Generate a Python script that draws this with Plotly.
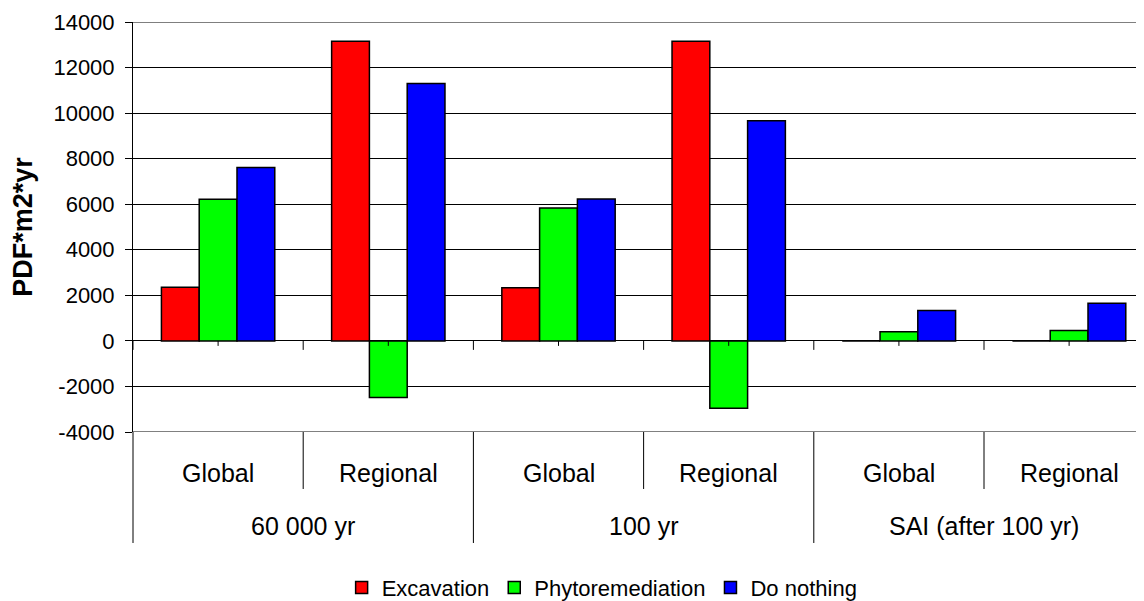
import plotly.graph_objects as go

# ---- data ----
inner_labels = ["Global", "Regional", "Global", "Regional", "Global", "Regional"]
outer_labels = ["60 000 yr", "100 yr", "SAI (after 100 yr)"]
series_names = ["Excavation", "Phytoremediation", "Do nothing"]
excavation = [2350, 13150, 2330, 13150, 0, 0]
phytoremediation = [6220, -2490, 5830, -2960, 400, 460]
do_nothing = [7610, 11300, 6230, 9660, 1330, 1650]
colors = ["#FF0000", "#00FF00", "#0000FF"]
y_ticks = list(range(-4000, 14001, 2000))

FONT = "Liberation Sans, Arial, sans-serif"
x_pos = list(range(len(inner_labels)))

fig = go.Figure()
for name, vals, col in zip(series_names, [excavation, phytoremediation, do_nothing], colors):
    fig.add_trace(go.Bar(
        x=x_pos, y=vals, name=name,
        marker=dict(color=col, line=dict(color="black", width=1.5)),
    ))

shapes = []
# tick marks on the zero line: long at category boundaries, short at centres
for k in range(len(inner_labels)):
    shapes.append(dict(type="line", xref="x", yref="y", ysizemode="pixel", yanchor=0,
                       x0=k - 0.5, x1=k - 0.5, y0=0, y1=-9,
                       line=dict(color="black", width=1)))
    shapes.append(dict(type="line", xref="x", yref="y", ysizemode="pixel", yanchor=0,
                       x0=k, x1=k, y0=0, y1=-5,
                       line=dict(color="black", width=1)))
# bottom and top boundary lines of the plot area
for yv in (y_ticks[0], y_ticks[-1]):
    shapes.append(dict(type="line", xref="paper", yref="y", x0=0, x1=1, y0=yv, y1=yv,
                       line=dict(color="black", width=1)))
# category-area separators
for k in range(len(inner_labels) - 1):
    b = k + 0.5
    depth = -0.2707 if k % 2 == 1 else -0.139
    shapes.append(dict(type="line", xref="x", yref="paper", x0=b, x1=b, y0=0, y1=depth,
                       line=dict(color="black", width=1)))
# left axis extension into the category area
shapes.append(dict(type="line", xref="paper", yref="paper", x0=0, x1=0, y0=0, y1=-0.2707,
                   line=dict(color="black", width=1)))

annotations = []
for k, t in enumerate(inner_labels):
    annotations.append(dict(text=t, x=k, xref="x", y=-0.1, yref="paper",
                            showarrow=False, xanchor="center", yanchor="middle",
                            font=dict(family=FONT, size=25, color="black")))
for g, t in enumerate(outer_labels):
    annotations.append(dict(text=t, x=2 * g + 0.5, xref="x", y=-0.2293, yref="paper",
                            showarrow=False, xanchor="center", yanchor="middle",
                            font=dict(family=FONT, size=25, color="black")))

fig.update_layout(
    width=1136, height=593,
    margin=dict(l=125, r=0, t=14, b=169, autoexpand=False),
    paper_bgcolor="white", plot_bgcolor="white",
    barmode="group", bargap=0.334, bargroupgap=0,
    font=dict(family=FONT, size=22, color="black"),
    shapes=shapes, annotations=annotations,
    legend=dict(orientation="h", xref="container", yref="paper",
                x=0.523, y=-0.38, xanchor="center", yanchor="middle",
                font=dict(family=FONT, size=22, color="black"),
                itemwidth=30, traceorder="normal"),
    showlegend=True,
)
fig.update_xaxes(range=[-0.5, 5.44], showticklabels=False, showgrid=False,
                 zeroline=False, showline=False, ticks="", automargin=False)
fig.update_yaxes(range=[-4000, 14000], tickvals=y_ticks,
                 ticktext=[str(v) for v in y_ticks],
                 showgrid=True, gridcolor="black", gridwidth=1,
                 zeroline=True, zerolinecolor="black", zerolinewidth=1,
                 showline=True, linecolor="black", linewidth=1,
                 ticks="outside", ticklen=7, tickcolor="black",
                 tickfont=dict(family=FONT, size=22, color="black"),
                 ticklabelstandoff=6, automargin=False,
                 title=dict(text="<b>PDF*m2*yr</b>", standoff=26,
                            font=dict(family=FONT, size=27, color="black")))

fig.write_html("out.html")
